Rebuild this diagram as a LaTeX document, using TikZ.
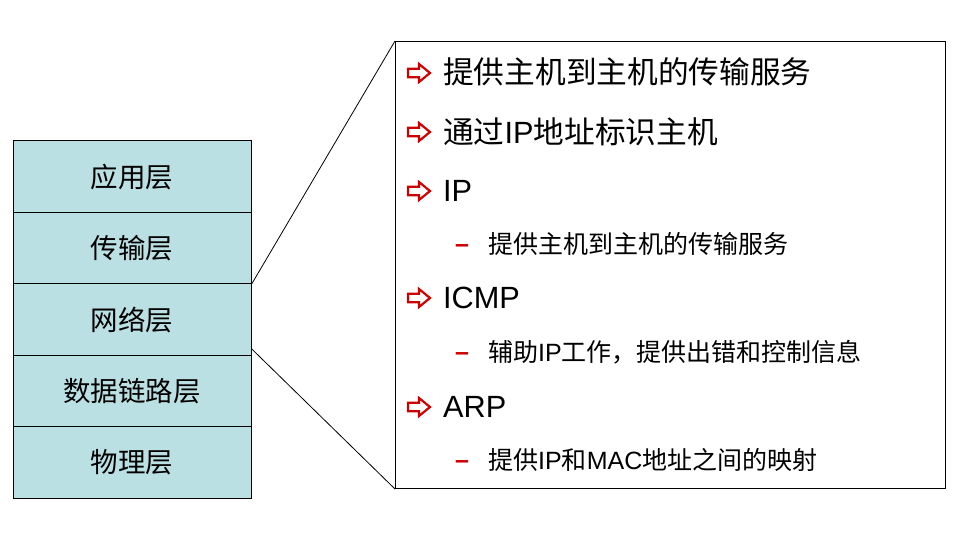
\documentclass[tikz,border=0pt]{standalone}
\usepackage{fontspec}
\setmainfont{Liberation Sans}
\newfontfamily\cjk{Noto Sans CJK SC}
\usetikzlibrary{calc}
\definecolor{LayerClr}{RGB}{187,224,227}
\definecolor{BulletClr}{RGB}{204,0,0}

\begin{document}
\begin{tikzpicture}[x=1pt,y=-1pt,
  layer/.style={draw,fill=LayerClr,line width=1pt,minimum width=238pt,minimum height=71.4pt,inner sep=0pt,font=\fontsize{27.5}{27.5}\selectfont\cjk},
  item/.style={anchor=west,inner sep=0pt,font=\fontsize{30.7}{30.7}\selectfont},
  subitem/.style={anchor=west,inner sep=0pt,font=\fontsize{25}{25}\selectfont},
  subdash/.style={anchor=base west,inner sep=0pt,text=BulletClr,font=\fontsize{25}{25}\selectfont\bfseries},
  ArrowBullet/.pic={
    \draw[BulletClr,line width=2.2pt,fill=white,line join=miter]
      (-11,-4.3) -- (0,-4.3) -- (0,-9) -- (11,0) -- (0,9) -- (0,4.3) -- (-11,4.3) -- cycle;
  }]
\useasboundingbox (0,0) rectangle (955,537);

% The protocol stack on the left.
\node (app)       [layer] at (132,176.7) {应用层};
\node (transport) [layer] at (132,248.1) {传输层};
\node (network)   [layer] at (132,319.5) {网络层};
\node (link)      [layer] at (132,390.9) {数据链路层};
\node (phys)      [layer] at (132,462.3) {物理层};

% The frame with the details of the network layer.
\node (detail) [draw,line width=1pt,minimum width=550pt,minimum height=447pt,inner sep=0pt,anchor=north west] at (395,41) {};

% Lines from the stack to the frame.
\draw[line width=0.8pt] (transport.south east) -- (detail.north west);
\draw[line width=0.8pt] ($(network.south east)+(0,-7)$) -- (detail.south west);

% Bullets.
\pic at (419,73) {ArrowBullet};
\pic at (419,132) {ArrowBullet};
\pic at (419,191) {ArrowBullet};
\pic at (419,298) {ArrowBullet};
\pic at (419,407) {ArrowBullet};

\node (srvA) [item] at (443,72)  {{\cjk 提供主机到主机的传输服务}};
\node (addr) [item] at (443,132) {{\cjk 通过}IP{\cjk 地址标识主机}};
\node (ip)   [item] at (443,191) {IP};
\node (icmp) [item] at (443,298) {ICMP};
\node (arp)  [item] at (443,407) {ARP};

% Sub items.
\node (dashA) [subdash] at (455,252) {–};
\node (dashB) [subdash] at (455,360) {–};
\node (dashC) [subdash] at (455,468) {–};
\node (srvB) [subitem] at (488,244) {{\cjk 提供主机到主机的传输服务}};
\node (err)  [subitem] at (488,352) {{\cjk 辅助}IP{\cjk 工作，提供出错和控制信息}};
\node (map)  [subitem] at (488,460) {{\cjk 提供}IP{\cjk 和}MAC{\cjk 地址之间的映射}};

\end{tikzpicture}
\end{document}
